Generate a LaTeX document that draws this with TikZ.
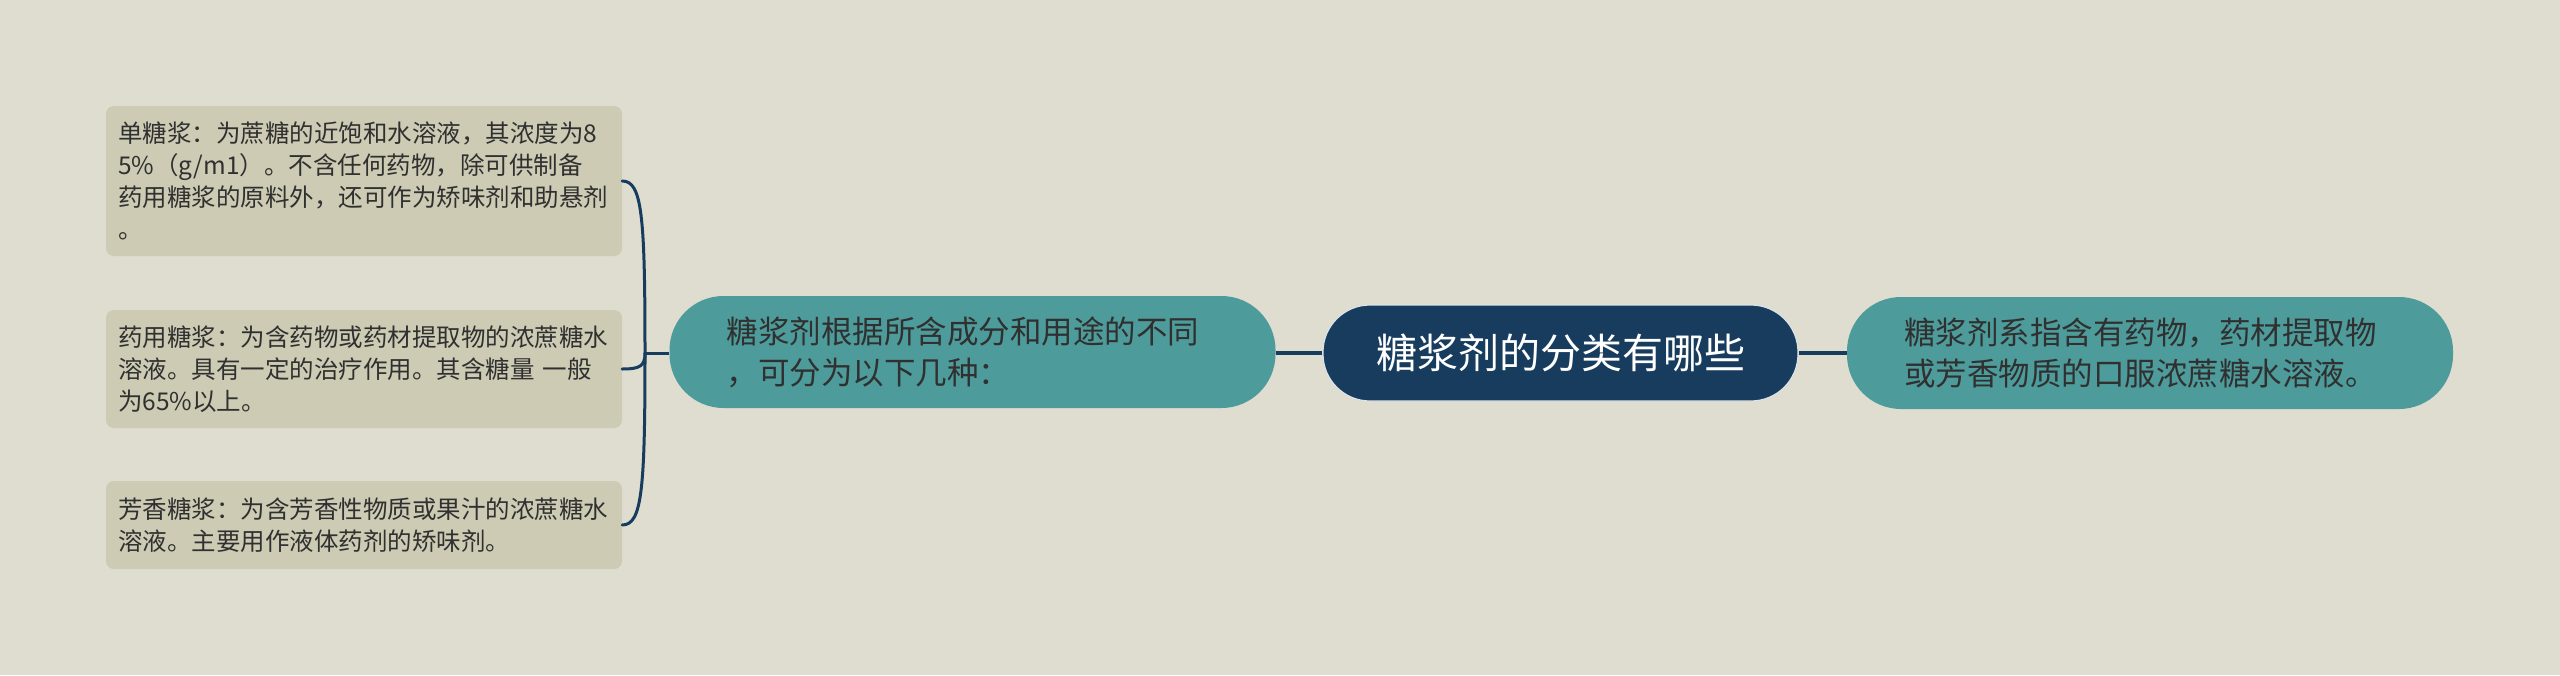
\documentclass[tikz,border=0pt]{standalone}
\usepackage{fontspec}
\setmainfont{Noto Sans CJK SC}
\usetikzlibrary{positioning}
\definecolor{bgc}{HTML}{DEDDCF}
\definecolor{leafc}{HTML}{CDCBB4}
\definecolor{tealc}{HTML}{4D9C9B}
\definecolor{navyc}{HTML}{173C5D}
\definecolor{txtc}{HTML}{303030}
\tikzset{
  leafbox/.style={rectangle, rounded corners=8pt, fill=leafc, draw=none,
    inner xsep=12pt, inner ysep=0pt, text width=492pt, align=left, text=txtc,
    font=\fontsize{24.5}{32}\selectfont},
  pillbox/.style={rectangle, rounded corners=54pt, fill=tealc, draw=none,
    inner xsep=57pt, inner ysep=0pt, text width=492pt, align=left, text=txtc,
    minimum height=112pt, font=\fontsize{31.5}{41}\selectfont},
  rootbox/.style={rectangle, rounded corners=47pt, fill=navyc, draw=white!85!navyc, line width=1.2pt,
    minimum width=475pt, minimum height=96pt, text=white, align=center,
    font=\fontsize{41}{50}\selectfont},
  conn/.style={draw=navyc, line width=4pt},
  brk/.style={draw=navyc, line width=3pt, line cap=round},
}
\begin{document}
\begin{tikzpicture}[x=1pt,y=-1pt]
\useasboundingbox[fill=bgc] (0,0) rectangle (2560,675);
% nodes
\node[rootbox] (root) at (1560.5,353) {糖浆剂的分类有哪些};
\node[pillbox, minimum width=605pt] (mid) at (972.5,352) {糖浆剂根据所含成分和用途的不同\\，可分为以下几种：};
\node[pillbox, minimum width=606pt] (right) at (2150,353) {糖浆剂系指含有药物，药材提取物\\或芳香物质的口服浓蔗糖水溶液。};
\node[leafbox, minimum height=150pt] (l1) at (364,181) {单糖浆：为蔗糖的近饱和水溶液，其浓度为8\\5\%（g/m1）。不含任何药物，除可供制备\\药用糖浆的原料外，还可作为矫味剂和助悬剂\\。};
\node[leafbox, minimum height=118pt] (l2) at (364,369) {药用糖浆：为含药物或药材提取物的浓蔗糖水\\溶液。具有一定的治疗作用。其含糖量 一般\\为65\%以上。};
\node[leafbox, minimum height=88pt] (l3) at (364,525) {芳香糖浆：为含芳香性物质或果汁的浓蔗糖水\\溶液。主要用作液体药剂的矫味剂。};
% connectors
\draw[conn] (mid.east |- root.west) -- (root.west);
\draw[conn] (root.east) -- (right.west |- root.east);
\coordinate (J) at (645,353);
\draw[conn, line width=3pt] (mid.west |- J) -- (J);
\draw[brk] (J) .. controls (645,215) and (642,181) .. (l1.east);
\draw[brk] (J) .. controls (645,366) and (640,369) .. (l2.east);
\draw[brk] (J) .. controls (645,490) and (642,525) .. (l3.east);
\end{tikzpicture}
\end{document}
